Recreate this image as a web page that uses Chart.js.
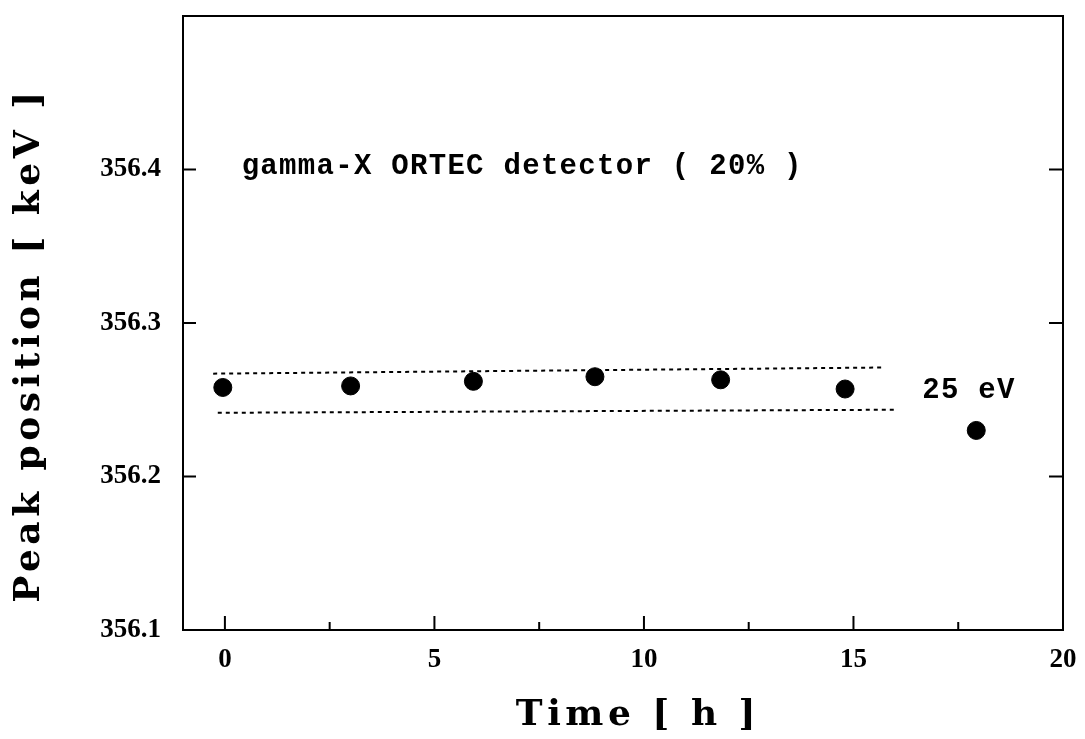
<!DOCTYPE html>
<html>
<head>
<meta charset="utf-8">
<script src="https://cdn.jsdelivr.net/npm/chart.js@4"></script>
<style>
  body { margin: 0; background: #fff; }
  #wrap { width: 1085px; height: 739px; }
</style>
</head>
<body>
<div id="wrap"><canvas id="chart" width="1085" height="739"></canvas></div>
<script>
// peak position measurements
const timeHours = [-0.05, 3.0, 5.93, 8.83, 11.83, 14.8, 17.93];
const peakKeV = [356.258, 356.259, 356.262, 356.265, 356.263, 356.257, 356.230];

// dotted band (25 eV wide)
const bandUpperX = [-0.28, 15.7];
const bandUpperY = [356.267, 356.271];
const bandLowerX = [-0.17, 16.05];
const bandLowerY = [356.2415, 356.2435];

// ticks
const xTicks = [0, 5, 10, 15, 20];
const xMinorTicks = [2.5, 7.5, 12.5, 17.5];
const yTicks = [356.1, 356.2, 356.3, 356.4];
const yRightTicks = [356.2, 356.3, 356.4];

const xTitle = 'Time [ h ]';
const yTitle = 'Peak position [ keV ]';
const noteLabels = ['gamma-X ORTEC detector ( 20% )', '25 eV'];
const noteX = [0.4, 16.64];
const noteY = [356.402, 356.2556];

function toPoints(xs, ys) {
  return xs.map((x, i) => ({ x: x, y: ys[i] }));
}

// cadre, graduations vers l'intérieur et textes
const framePlugin = {
  id: 'frame',
  afterDraw(chart) {
    const ctx = chart.ctx;
    const a = chart.chartArea;
    const xs = chart.scales.x;
    const ys = chart.scales.y;
    ctx.save();
    ctx.strokeStyle = '#000';
    ctx.lineWidth = 2;
    ctx.strokeRect(a.left, a.top, a.right - a.left, a.bottom - a.top);

    ctx.beginPath();
    xTicks.forEach(v => {
      const px = xs.getPixelForValue(v);
      ctx.moveTo(px, a.bottom); ctx.lineTo(px, a.bottom - 14);
    });
    xMinorTicks.forEach(v => {
      const px = xs.getPixelForValue(v);
      ctx.moveTo(px, a.bottom); ctx.lineTo(px, a.bottom - 8);
    });
    yTicks.forEach(v => {
      const py = ys.getPixelForValue(v);
      ctx.moveTo(a.left, py); ctx.lineTo(a.left + 13, py);
    });
    yRightTicks.forEach(v => {
      const py = ys.getPixelForValue(v);
      ctx.moveTo(a.right, py); ctx.lineTo(a.right - 14, py);
    });
    ctx.stroke();

    ctx.fillStyle = '#000';
    ctx.textBaseline = 'middle';

    // notes in the plot
    ctx.font = 'bold 29px "Liberation Mono"';
    ctx.letterSpacing = '1.3px';
    ctx.textAlign = 'left';
    noteLabels.forEach((t, i) => {
      ctx.fillText(t, xs.getPixelForValue(noteX[i]), ys.getPixelForValue(noteY[i]));
    });

    // axis titles
    ctx.font = 'bold 36px "DejaVu Serif"';
    ctx.letterSpacing = '4.5px';
    ctx.textAlign = 'center';
    ctx.fillText(xTitle, 638, 716);
    ctx.translate(30, 345);
    ctx.rotate(-Math.PI / 2);
    ctx.fillText(yTitle, 0, 0);
    ctx.restore();
  }
};

const tickFont = { family: 'Liberation Serif', size: 27, weight: 'bold' };

new Chart(document.getElementById('chart'), {
  type: 'scatter',
  data: {
    datasets: [
      {
        label: 'Peak position',
        data: toPoints(timeHours, peakKeV),
        backgroundColor: '#000',
        borderColor: '#000',
        pointRadius: 9,
        pointHoverRadius: 9
      },
      {
        label: 'upper',
        data: toPoints(bandUpperX, bandUpperY),
        showLine: true,
        borderColor: '#000',
        borderWidth: 2,
        borderDash: [4, 4],
        pointRadius: 0
      },
      {
        label: 'lower',
        data: toPoints(bandLowerX, bandLowerY),
        showLine: true,
        borderColor: '#000',
        borderWidth: 2,
        borderDash: [4, 4],
        pointRadius: 0
      }
    ]
  },
  options: {
    responsive: false,
    animation: false,
    layout: { padding: { left: 0, right: 22, top: 16, bottom: 0 } },
    plugins: { legend: { display: false }, tooltip: { enabled: false } },
    scales: {
      x: {
        type: 'linear',
        min: -1,
        max: 20,
        afterFit: s => { s.height = 109; s.paddingLeft = 0; s.paddingRight = 0; },
        afterBuildTicks: s => { s.ticks = xTicks.map(v => ({ value: v })); },
        grid: { display: false, drawTicks: false },
        border: { display: false },
        ticks: { color: '#000', font: tickFont, padding: 14, maxRotation: 0 }
      },
      y: {
        type: 'linear',
        min: 356.1,
        max: 356.5,
        afterFit: s => { s.width = 183; s.paddingTop = 0; s.paddingBottom = 0; },
        afterBuildTicks: s => { s.ticks = yTicks.map(v => ({ value: v })); },
        grid: { display: false, drawTicks: false },
        border: { display: false },
        ticks: { color: '#000', font: tickFont, padding: 22, callback: v => v.toFixed(1) }
      }
    }
  },
  plugins: [framePlugin]
});
</script>
</body>
</html>
